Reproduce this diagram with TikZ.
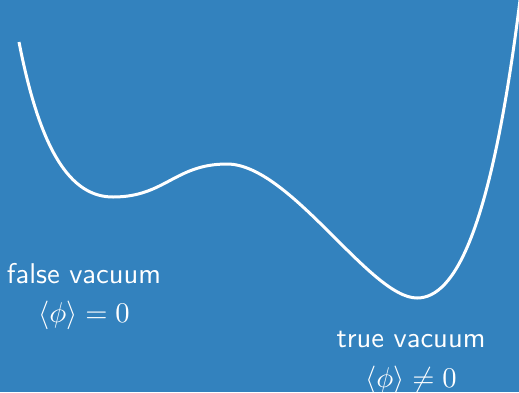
\documentclass[tikz,border=0pt]{standalone}
\definecolor{bgblue}{RGB}{51,130,190}
\begin{document}
\begin{tikzpicture}[x=0.35pt,y=-0.35pt,
  lbl/.style={text=white,anchor=base,inner sep=0pt,font=\fontsize{10}{12}\selectfont\sffamily}]
\fill[bgblue] (0,0) rectangle (519,392);
\useasboundingbox (0,0) rectangle (519,392);
\begin{scope}
\clip (0,0) rectangle (519,392);
\draw[white,line width=1.05pt]
 (19,42) .. controls (40,150) and (70,197) .. (113,197)
 .. controls (165,197) and (175,164) .. (227,164)
 .. controls (290,164) and (370,298) .. (417,298)
 .. controls (455,298) and (492,230) .. (521,-8);
\end{scope}
\node[lbl] (fv) at (84,283) {false vacuum};
\node[lbl] (fvm) at (84,322) {$\langle\phi\rangle = 0$};
\node[lbl] (tv) at (411,347) {true vacuum};
\node[lbl] (tvm) at (411,387) {$\langle\phi\rangle \neq 0$};
\end{tikzpicture}
\end{document}
